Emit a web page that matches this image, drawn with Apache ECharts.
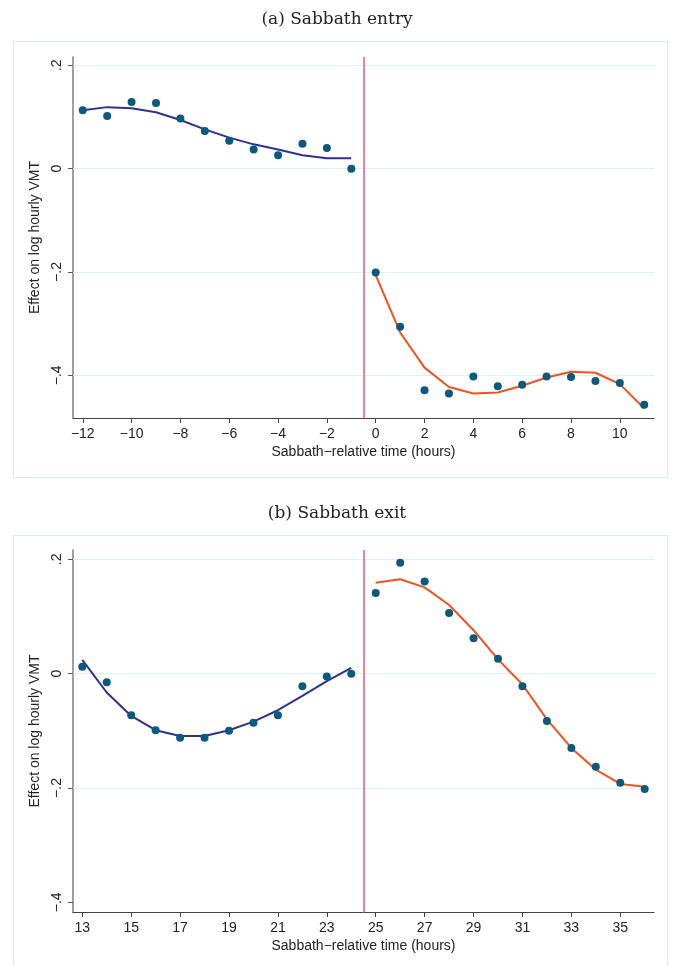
<!DOCTYPE html>
<html>
<head>
<meta charset="utf-8">
<script src="https://cdn.jsdelivr.net/npm/echarts@6/dist/echarts.min.js"></script>
<style>
  html, body { margin: 0; padding: 0; background: #fff; }
  #chart { width: 674px; height: 966px; }
</style>
</head>
<body>
<div id="chart"></div>
<script>
// Panel (a): hours around Sabbath entry
const entryHoursPre = [-12, -11, -10, -9, -8, -7, -6, -5, -4, -3, -2, -1];
const entryHoursPost = [0, 1, 2, 3, 4, 5, 6, 7, 8, 9, 10, 11];
const entryPreEst = [0.113, 0.102, 0.129, 0.127, 0.097, 0.073, 0.054, 0.037, 0.026, 0.048, 0.040, 0.000];
const entryPreFit = [0.113, 0.119, 0.117, 0.109, 0.094, 0.076, 0.060, 0.047, 0.037, 0.026, 0.020, 0.020];
const entryPostEst = [-0.201, -0.306, -0.429, -0.435, -0.402, -0.421, -0.418, -0.402, -0.403, -0.411, -0.415, -0.457];
const entryPostFit = [-0.206, -0.317, -0.385, -0.4225, -0.435, -0.433, -0.420, -0.404, -0.393, -0.395, -0.417, -0.464];
const entryXTicks = [-12, -10, -8, -6, -4, -2, 0, 2, 4, 6, 8, 10];

// Panel (b): hours around Sabbath exit
const exitHoursPre = [13, 14, 15, 16, 17, 18, 19, 20, 21, 22, 23, 24];
const exitHoursPost = [25, 26, 27, 28, 29, 30, 31, 32, 33, 34, 35, 36];
const exitPreEst = [0.012, -0.015, -0.073, -0.099, -0.112, -0.112, -0.100, -0.086, -0.073, -0.022, -0.005, 0.000];
const exitPreFit = [0.024, -0.033, -0.074, -0.099, -0.109, -0.109, -0.099, -0.084, -0.064, -0.039, -0.013, 0.010];
const exitPostEst = [0.141, 0.194, 0.161, 0.106, 0.062, 0.026, -0.022, -0.083, -0.130, -0.163, -0.191, -0.202];
const exitPostFit = [0.159, 0.165, 0.151, 0.120, 0.076, 0.025, -0.019, -0.080, -0.130, -0.168, -0.193, -0.198];
const exitXTicks = [13, 15, 17, 19, 21, 23, 25, 27, 29, 31, 33, 35];

const yTicks = [0.2, 0, -0.2, -0.4];
const entryCutoff = -0.5;
const exitCutoff = 24.5;

const titles = ['(a) Sabbath entry', '(b) Sabbath exit'];
const xName = 'Sabbath\u2212relative time (hours)';
const yName = 'Effect on log hourly VMT';

const DOT = '#0a5a7e';
const PRE_LINE = '#2f3192';
const POST_LINE = '#f1521f';
const CUT_LINE = '#ec5878';
const GRID_LINE = '#dff0f0';
const SANS = '"Liberation Sans", Arial, sans-serif';
const SERIF = '"DejaVu Serif", "Liberation Serif", serif';

const pairs = (xs, ys) => xs.map((x, i) => [x, ys[i]]);
const minus = s => String(s).replace('-', '\u2212');
const yFmt = v => {
  if (Math.abs(v) < 1e-9) return '0';
  return minus(String(Math.round(v * 10) / 10).replace(/^(-?)0\./, '$1.'));
};

function xAxis(idx, min, max, ticks) {
  return {
    type: 'value', gridIndex: idx, min: min, max: max,
    name: xName, nameLocation: 'middle', nameGap: 27,
    nameTextStyle: { fontFamily: SANS, fontSize: 14, color: '#222' },
    axisLine: { show: true, onZero: false, lineStyle: { color: '#444', width: 1 } },
    axisTick: { show: true, length: 5, lineStyle: { color: '#444' }, customValues: ticks },
    axisLabel: { customValues: ticks, formatter: minus, fontFamily: SANS, fontSize: 14, color: '#222', margin: 9 },
    splitLine: { show: false }
  };
}

function yAxis(idx, min, max, ticks) {
  return {
    type: 'value', gridIndex: idx, min: min, max: max,
    name: yName, nameLocation: 'middle', nameGap: 28, nameRotate: 90,
    nameTextStyle: { fontFamily: SANS, fontSize: 14, color: '#222' },
    axisLine: { show: true, onZero: false, lineStyle: { color: '#808080', width: 1.5 } },
    axisTick: { show: true, length: 5, lineStyle: { color: '#555' }, customValues: ticks },
    axisLabel: { customValues: ticks, formatter: yFmt, rotate: 90, fontFamily: SANS, fontSize: 14, color: '#222', margin: 9 },
    splitLine: { show: false }
  };
}

function panelSeries(idx, pre, post, cutoff, gridVals) {
  const xs = { xAxisIndex: idx, yAxisIndex: idx };
  return [
    Object.assign({
      type: 'line', data: pairs(pre.x, pre.fit), showSymbol: false, symbol: 'none',
      lineStyle: { color: PRE_LINE, width: 2 }, z: 3, silent: true,
      markLine: {
        silent: true, symbol: 'none', label: { show: false },
        lineStyle: { color: GRID_LINE, width: 1, type: 'solid' },
        data: gridVals.map(v => ({ yAxis: v })), z: 1
      }
    }, xs),
    Object.assign({
      type: 'line', data: pairs(post.x, post.fit), showSymbol: false, symbol: 'none',
      lineStyle: { color: POST_LINE, width: 2 }, z: 3, silent: true,
      markLine: {
        silent: true, symbol: 'none', label: { show: false },
        lineStyle: { color: CUT_LINE, width: 1.5, type: 'solid' },
        data: [{ xAxis: cutoff }]
      }
    }, xs),
    Object.assign({
      type: 'scatter', data: pairs(pre.x, pre.est).concat(pairs(post.x, post.est)),
      symbolSize: 8, itemStyle: { color: DOT, opacity: 1 }, z: 4, silent: true
    }, xs)
  ];
}

const chart = echarts.init(document.getElementById('chart'), null, { renderer: 'canvas' });
chart.setOption({
  animation: false,
  backgroundColor: '#ffffff',
  title: [
    { text: titles[0], left: 'center', top: 6, textStyle: { fontFamily: SERIF, fontWeight: 'normal', fontSize: 17, color: '#222' } },
    { text: titles[1], left: 'center', top: 500, textStyle: { fontFamily: SERIF, fontWeight: 'normal', fontSize: 17, color: '#222' } }
  ],
  graphic: [
    { type: 'rect', shape: { x: 13.5, y: 41.5, width: 654, height: 436 }, style: { fill: 'none', stroke: '#dcecec', lineWidth: 1 }, silent: true, z: -1 },
    { type: 'rect', shape: { x: 13.5, y: 535.5, width: 654, height: 440 }, style: { fill: 'none', stroke: '#dcecec', lineWidth: 1 }, silent: true, z: -1 }
  ],
  grid: [
    { left: 73, top: 57, width: 581, height: 361 },
    { left: 73, top: 550, width: 581, height: 362 }
  ],
  xAxis: [
    xAxis(0, -12.4, 11.4, entryXTicks),
    xAxis(1, 12.62, 36.38, exitXTicks)
  ],
  yAxis: [
    yAxis(0, -0.4825, 0.216, yTicks),
    yAxis(1, -0.417, 0.2163, yTicks)
  ],
  series: [].concat(
    panelSeries(0,
      { x: entryHoursPre, fit: entryPreFit, est: entryPreEst },
      { x: entryHoursPost, fit: entryPostFit, est: entryPostEst },
      entryCutoff, [0.2, 0, -0.2, -0.4]),
    panelSeries(1,
      { x: exitHoursPre, fit: exitPreFit, est: exitPreEst },
      { x: exitHoursPost, fit: exitPostFit, est: exitPostEst },
      exitCutoff, [0.2, 0, -0.2])
  )
});
</script>
</body>
</html>
